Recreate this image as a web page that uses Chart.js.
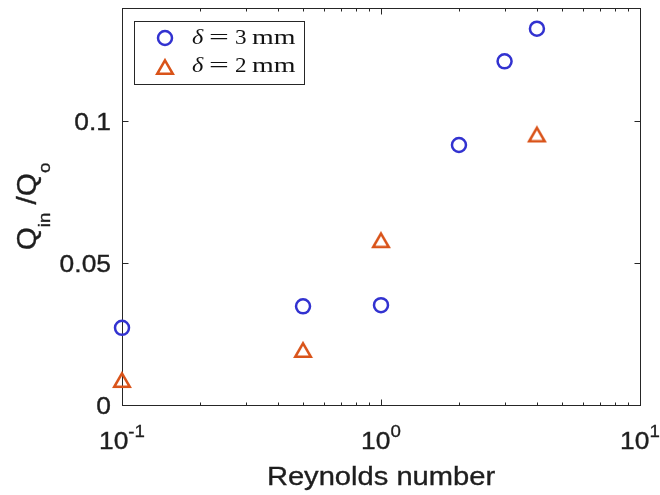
<!DOCTYPE html>
<html><head><meta charset="utf-8">
<script src="https://cdn.jsdelivr.net/npm/chart.js@4/dist/chart.umd.min.js"></script>
<style>html,body{margin:0;padding:0;background:#fff}#wrap{width:660px;height:495px}</style>
</head><body><div id="wrap"><canvas id="c" width="660" height="495"></canvas></div>
<script>
// ---- data ----
const reynolds3 = [0.1, 0.5, 1, 2, 3, 4];
const ratio3 = [0.0272, 0.0348, 0.0352, 0.0917, 0.1212, 0.1327];
const reynolds2 = [0.1, 0.5, 1, 4];
const ratio2 = [0.0088, 0.0194, 0.0581, 0.0954];
const seriesDelta = ['3', '2'];
const seriesUnit = 'mm';
const xTickValues = [0.1, 1, 10];
const xTickExponents = ['-1', '0', '1'];
const yTickValues = [0, 0.05, 0.1];
const yTickLabels = ['0', '0.05', '0.1'];
const xTitle = 'Reynolds number';

// ---- styles ----
const AXIS = '#262626';
const TEXT = '#1e1e1e';
const BLUE = 'rgb(50,50,208)';
const ORANGE = 'rgb(217,83,25)';
const SANS = '"Liberation Sans", Arial, Helvetica, sans-serif';
const SERIF = '"Liberation Serif", "Times New Roman", serif';
const SX = 1.1;

function txt(ctx, s, x, y, align, font, sx, stroke) {
  ctx.save();
  ctx.font = font;
  const w = ctx.measureText(s).width * sx;
  const x0 = align === 'center' ? x - w / 2 : align === 'right' ? x - w : x;
  ctx.translate(x0, y);
  ctx.scale(sx, 1);
  ctx.textAlign = 'left';
  ctx.textBaseline = 'alphabetic';
  ctx.fillText(s, 0, 0);
  if (stroke) {
    ctx.lineWidth = stroke;
    ctx.strokeStyle = ctx.fillStyle;
    ctx.strokeText(s, 0, 0);
  }
  ctx.restore();
  return w;
}
function measure(ctx, s, font, sx) { ctx.save(); ctx.font = font; const w = ctx.measureText(s).width * sx; ctx.restore(); return w; }

// triangle marker centred on its bounding box (MATLAB '^' style)
function trianglePath(ctx, cx, cy, r) {
  const h = 1.5 * r, half = r * Math.sqrt(3) / 2;
  ctx.beginPath();
  ctx.moveTo(cx, cy - h / 2);
  ctx.lineTo(cx + half, cy + h / 2);
  ctx.lineTo(cx - half, cy + h / 2);
  ctx.closePath();
}
function makeTriangleImage(r, color, lw) {
  const c = document.createElement('canvas');
  c.width = 26; c.height = 26;
  const g = c.getContext('2d');
  g.strokeStyle = color; g.lineWidth = lw; g.lineJoin = 'miter';
  trianglePath(g, 13, 13, r);
  g.stroke();
  return c;
}
const triImg = makeTriangleImage(9, ORANGE, 2.5);

const framePlugin = {
  id: 'frame',
  beforeDatasetsDraw(chart) {
    const {ctx, chartArea: a, scales: {x, y}} = chart;
    ctx.save();
    ctx.strokeStyle = AXIS; ctx.lineWidth = 1;
    const L = Math.round(a.left) + 0.5, R = Math.round(a.right) + 0.5;
    const T = Math.round(a.top) + 0.5, B = Math.round(a.bottom) + 0.5;
    ctx.strokeRect(L, T, R - L, B - T);
    ctx.beginPath();
    xTickValues.forEach(v => {
      const px = Math.round(x.getPixelForValue(v)) + 0.5;
      ctx.moveTo(px, B); ctx.lineTo(px, B - 6);
      ctx.moveTo(px, T); ctx.lineTo(px, T + 6);
    });
    for (let i = 0; i < xTickValues.length - 1; i++) {
      for (let k = 2; k <= 9; k++) {
        const px = Math.round(x.getPixelForValue(xTickValues[i] * k)) + 0.5;
        ctx.moveTo(px, B); ctx.lineTo(px, B - 3);
        ctx.moveTo(px, T); ctx.lineTo(px, T + 3);
      }
    }
    yTickValues.forEach(v => {
      const py = Math.round(y.getPixelForValue(v)) + 0.5;
      ctx.moveTo(L, py); ctx.lineTo(L + 6, py);
      ctx.moveTo(R, py); ctx.lineTo(R - 6, py);
    });
    ctx.stroke();
    ctx.restore();
  },
  afterDatasetsDraw(chart) {
    const {ctx, chartArea: a, scales: {x, y}} = chart;
    ctx.save();
    ctx.fillStyle = TEXT;
    const fBase = '24px ' + SANS, fExp = '17px ' + SANS;
    xTickValues.forEach((v, i) => {
      const px = x.getPixelForValue(v);
      const wb = measure(ctx, '10', fBase, SX), we = measure(ctx, xTickExponents[i], fExp, SX);
      const x0 = px - (wb + we) / 2;
      txt(ctx, '10', x0, 449, 'left', fBase, SX, 0.35);
      txt(ctx, xTickExponents[i], x0 + wb, 437, 'left', fExp, SX, 0.3);
    });
    yTickValues.forEach((v, i) => {
      const py = y.getPixelForValue(v);
      txt(ctx, yTickLabels[i], a.left - 11, py + 9, 'right', fBase, SX, 0.35);
    });
    txt(ctx, xTitle, (a.left + a.right) / 2, 485, 'center', '26px ' + SANS, 1.12, 0.35);
    // y title: Q_{in} /Q_o
    const fM = '27px ' + SANS, fS = '17px ' + SANS;
    const parts = [['Q', fM, 0], ['in', fS, 14], [' /', fM, 0], ['Q', fM, 0], ['o', fS, 14]];
    let W = 0; parts.forEach(p => { W += measure(ctx, p[0], p[1], SX); });
    ctx.save();
    ctx.translate(36, (a.top + a.bottom) / 2);
    ctx.rotate(-Math.PI / 2);
    let cx = -W / 2;
    parts.forEach(p => { cx += txt(ctx, p[0], cx, p[2], 'left', p[1], SX, 0.35); });
    ctx.restore();

    // legend
    ctx.fillStyle = '#fff';
    ctx.fillRect(134.5, 21.5, 170, 63);
    ctx.strokeStyle = AXIS; ctx.lineWidth = 1;
    ctx.strokeRect(134.5, 21.5, 170, 63);
    ctx.lineWidth = 2.5;
    ctx.strokeStyle = BLUE;
    ctx.beginPath(); ctx.arc(165, 38, 7, 0, Math.PI * 2); ctx.stroke();
    ctx.strokeStyle = ORANGE;
    trianglePath(ctx, 165, 67, 9); ctx.stroke();
    const baselines = [44, 72];
    baselines.forEach((by, i) => {
      ctx.fillStyle = '#111';
      txt(ctx, 'δ', 192, by, 'left', 'italic 22px ' + SERIF, 1.1, 0);
      txt(ctx, '=', 209, by, 'left', '22px ' + SERIF, 1.6, 0);
      txt(ctx, seriesDelta[i], 235, by, 'left', '22px ' + SERIF, 1.05, 0);
      txt(ctx, seriesUnit, 252, by, 'left', '22px ' + SERIF, 1.27, 0);
    });
    ctx.restore();
  }
};

const toPts = (xs, ys) => xs.map((v, i) => ({x: v, y: ys[i]}));

new Chart(document.getElementById('c'), {
  type: 'scatter',
  data: {
    datasets: [
      {label: 'δ = 3 mm', data: toPts(reynolds3, ratio3), pointStyle: 'circle', radius: 7, hoverRadius: 7,
       borderColor: BLUE, backgroundColor: 'rgba(0,0,0,0)', borderWidth: 2.5, showLine: false, clip: false},
      {label: 'δ = 2 mm', data: toPts(reynolds2, ratio2), pointStyle: triImg, radius: 9, hoverRadius: 9,
       borderColor: ORANGE, backgroundColor: 'rgba(0,0,0,0)', borderWidth: 2.5, showLine: false, clip: false}
    ]
  },
  options: {
    responsive: false, animation: false, devicePixelRatio: 1, events: [],
    layout: {autoPadding: false, padding: {top: 8, right: 20, left: 0, bottom: 0}},
    plugins: {legend: {display: false}, tooltip: {enabled: false}, title: {display: false}},
    scales: {
      x: {type: 'logarithmic', min: 0.1, max: 10, grid: {display: false}, border: {display: false},
          ticks: {display: false}, afterFit: s => { s.height = 90; }},
      y: {type: 'linear', min: 0, max: 0.14, grid: {display: false}, border: {display: false},
          ticks: {display: false}, afterFit: s => { s.width = 122; }}
    }
  },
  plugins: [framePlugin]
});
</script>
</body></html>
